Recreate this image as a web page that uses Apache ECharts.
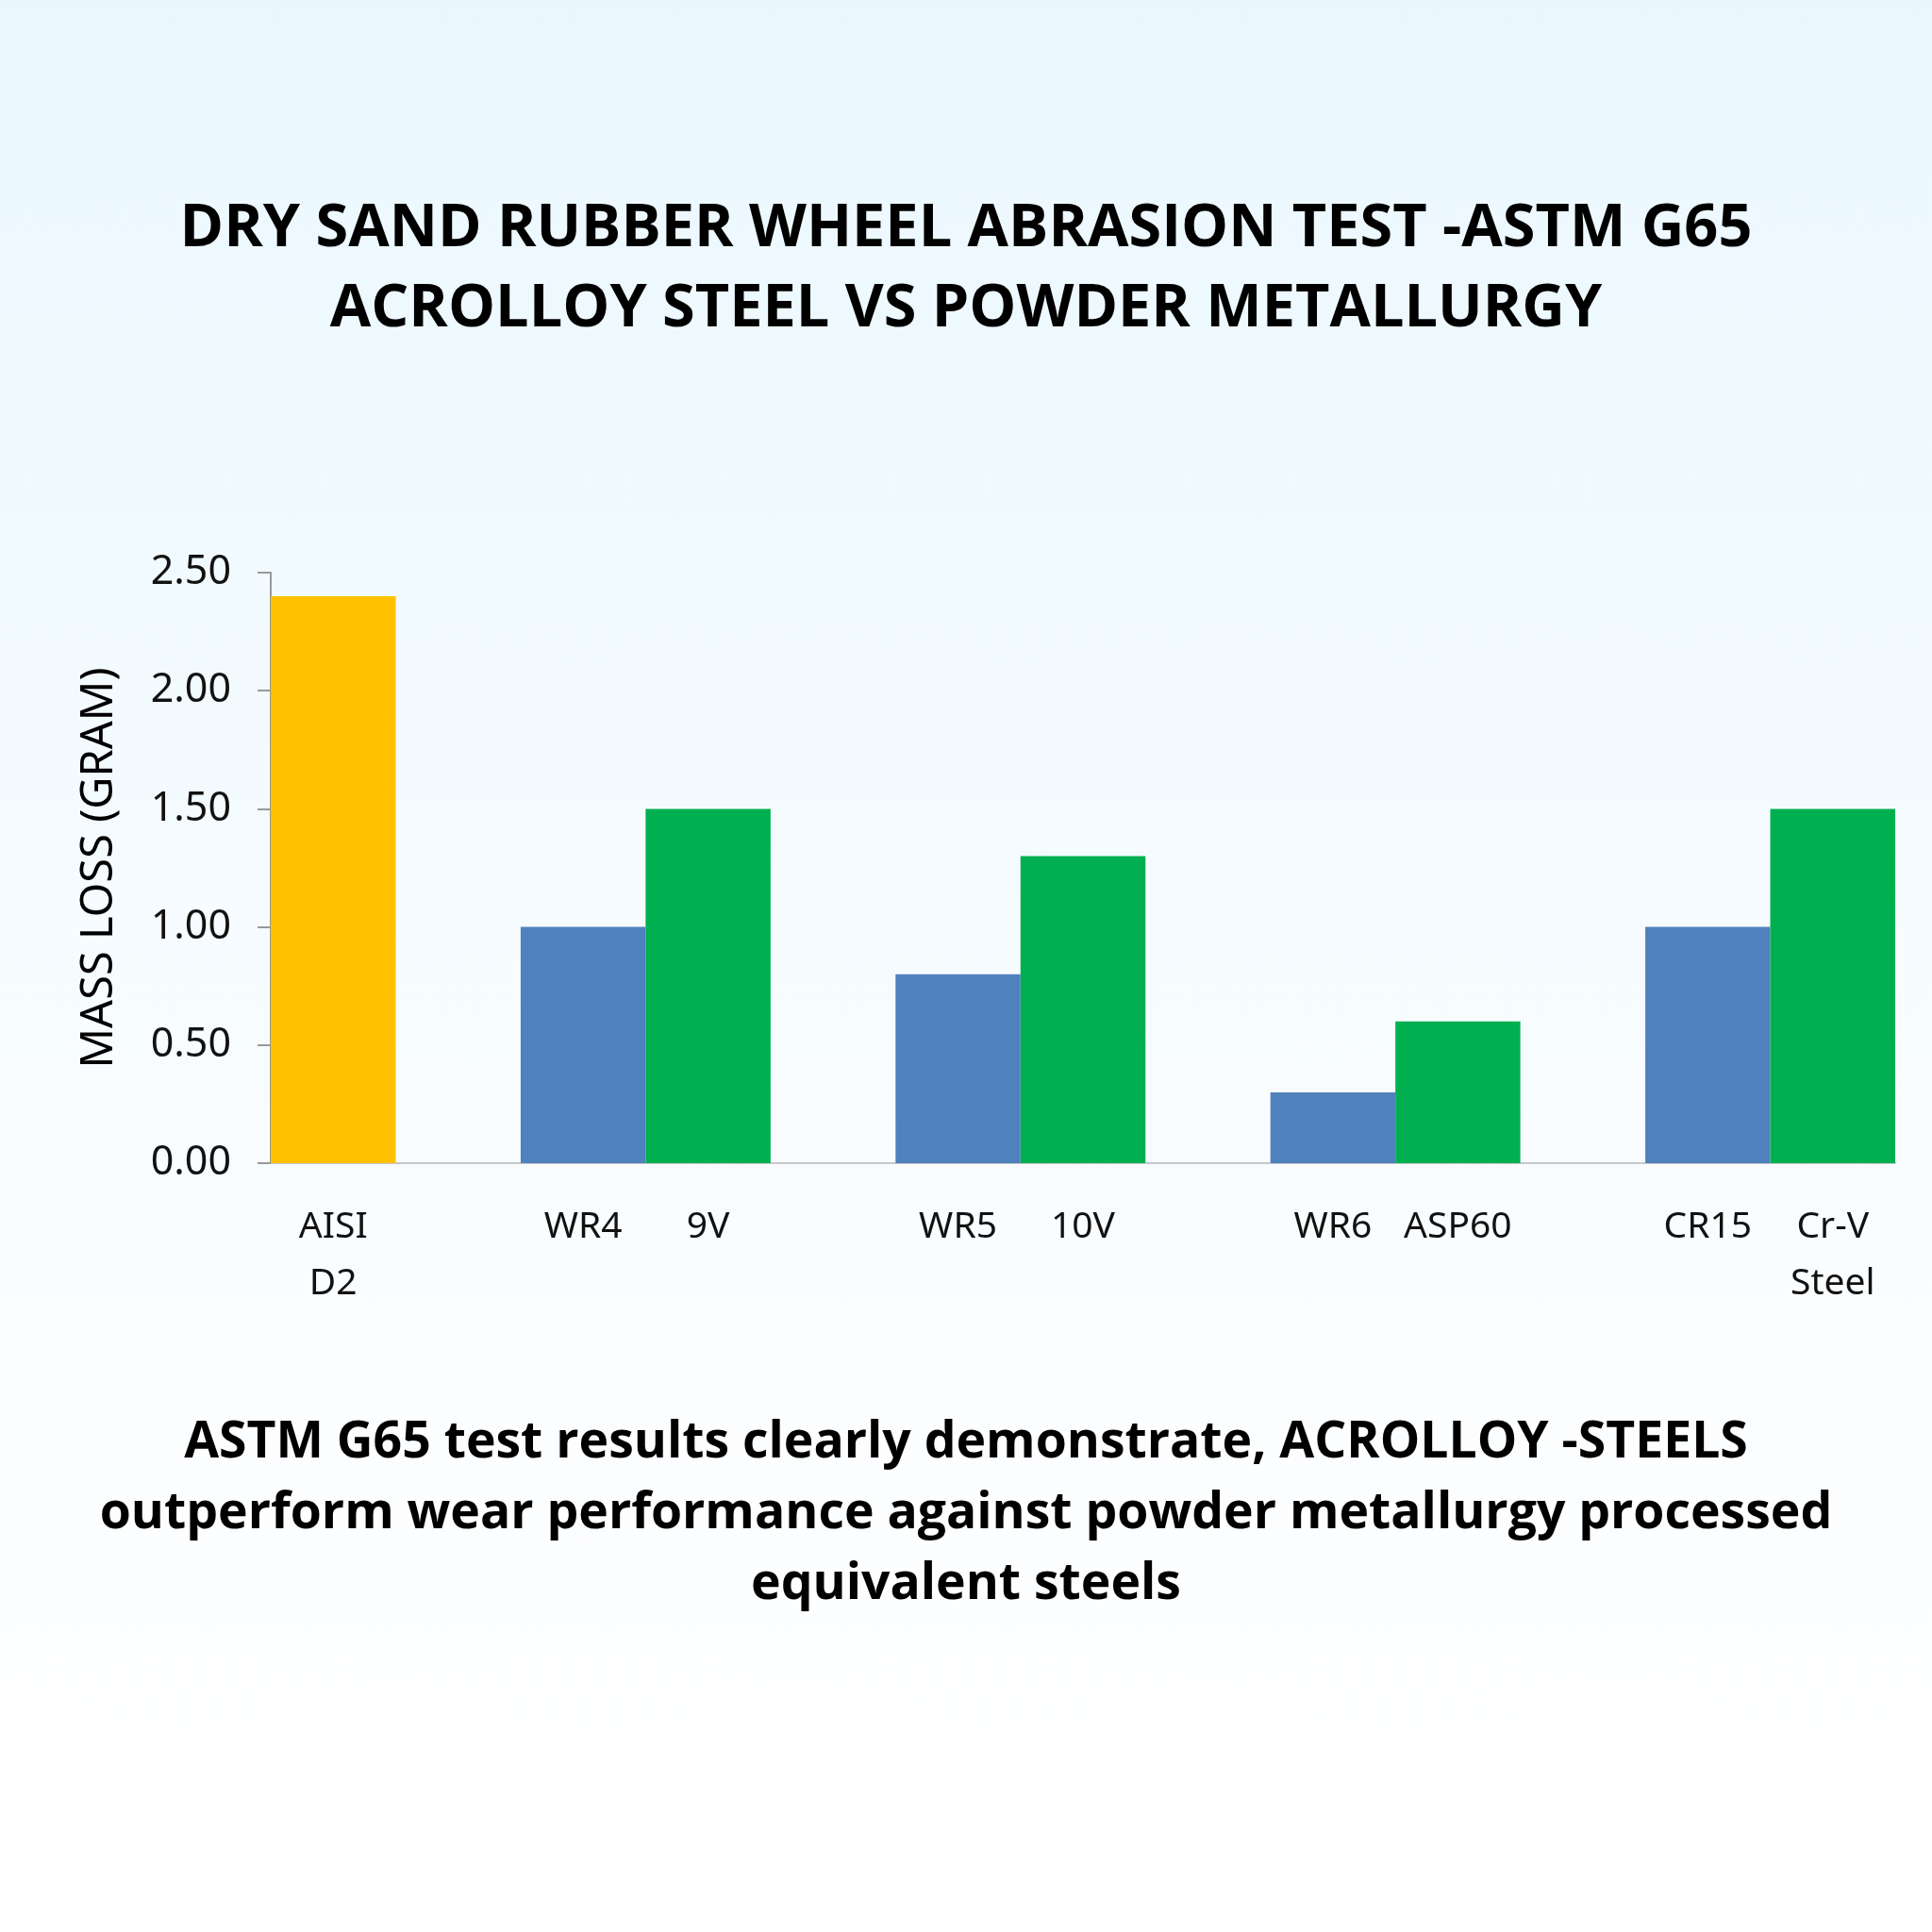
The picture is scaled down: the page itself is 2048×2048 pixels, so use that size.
<!DOCTYPE html>
<html><head><meta charset="utf-8">
<script src="https://cdn.jsdelivr.net/npm/echarts@6/dist/echarts.min.js"></script>
<style>html,body{margin:0;padding:0;}#c{width:2048px;height:2048px;background:linear-gradient(#eaf8fe,#fbfdff 70%,#ffffff);}</style>
</head><body><div id="c"></div>
<script>
const categories = ["AISI\nD2", "", "WR4", "9V", "", "WR5", "10V", "", "WR6", "ASP60", "", "CR15", "Cr-V\nSteel"];
const values = [2.40, null, 1.00, 1.50, null, 0.80, 1.30, null, 0.30, 0.60, null, 1.00, 1.50];
const barColors = ["#ffc000", null, "#4f81bd", "#00b050", null, "#4f81bd", "#00b050", null, "#4f81bd", "#00b050", null, "#4f81bd", "#00b050"];
const yTicks = { min: 0, max: 2.5, interval: 0.5 };
const chart = echarts.init(document.getElementById('c'), null, {renderer: 'canvas'});
chart.setOption({
  backgroundColor: 'transparent',
  title: [
    {text: 'DRY SAND RUBBER WHEEL ABRASION TEST -ASTM G65\nACROLLOY STEEL VS POWDER METALLURGY', left: 'center', top: 196,
     textStyle: {fontFamily: 'Open Sans', fontWeight: 'bold', fontSize: 63, lineHeight: 85, color: '#000'}},
    {text: 'ASTM G65 test results clearly demonstrate, ACROLLOY -STEELS\noutperform wear performance against powder metallurgy processed\nequivalent steels', left: 'center', top: 1487,
     textStyle: {fontFamily: 'Open Sans', fontWeight: 'bold', fontSize: 53.5, lineHeight: 75, color: '#000'}}
  ],
  grid: {left: 287, right: 39, top: 607, bottom: 815, containLabel: false},
  xAxis: {type: 'category', data: categories,
    axisLine: {lineStyle: {color: '#c8c8c8', width: 2}}, axisTick: {show: false},
    axisLabel: {interval: 0, margin: 38, fontFamily: 'Noto Sans', fontSize: 39, lineHeight: 60, color: '#111'}},
  yAxis: {type: 'value', min: yTicks.min, max: yTicks.max, interval: yTicks.interval,
    name: 'MASS LOSS (GRAM)', nameLocation: 'middle', nameGap: 158, nameRotate: 90,
    nameTextStyle: {fontFamily: 'Noto Sans', fontSize: 47, color: '#000'},
    axisLine: {show: true, lineStyle: {color: '#999', width: 2}},
    axisTick: {show: true, inside: false, length: 14, lineStyle: {color: '#999', width: 2}},
    splitLine: {show: false},
    axisLabel: {margin: 42, fontFamily: 'Noto Sans', fontSize: 43, color: '#111', formatter: v => v.toFixed(2)}},
  series: [{type: 'bar', barWidth: '100%', barCategoryGap: 0,
    data: values.map((v, i) => ({value: v, itemStyle: {color: barColors[i] || '#000'}}))}]
});
</script></body></html>
